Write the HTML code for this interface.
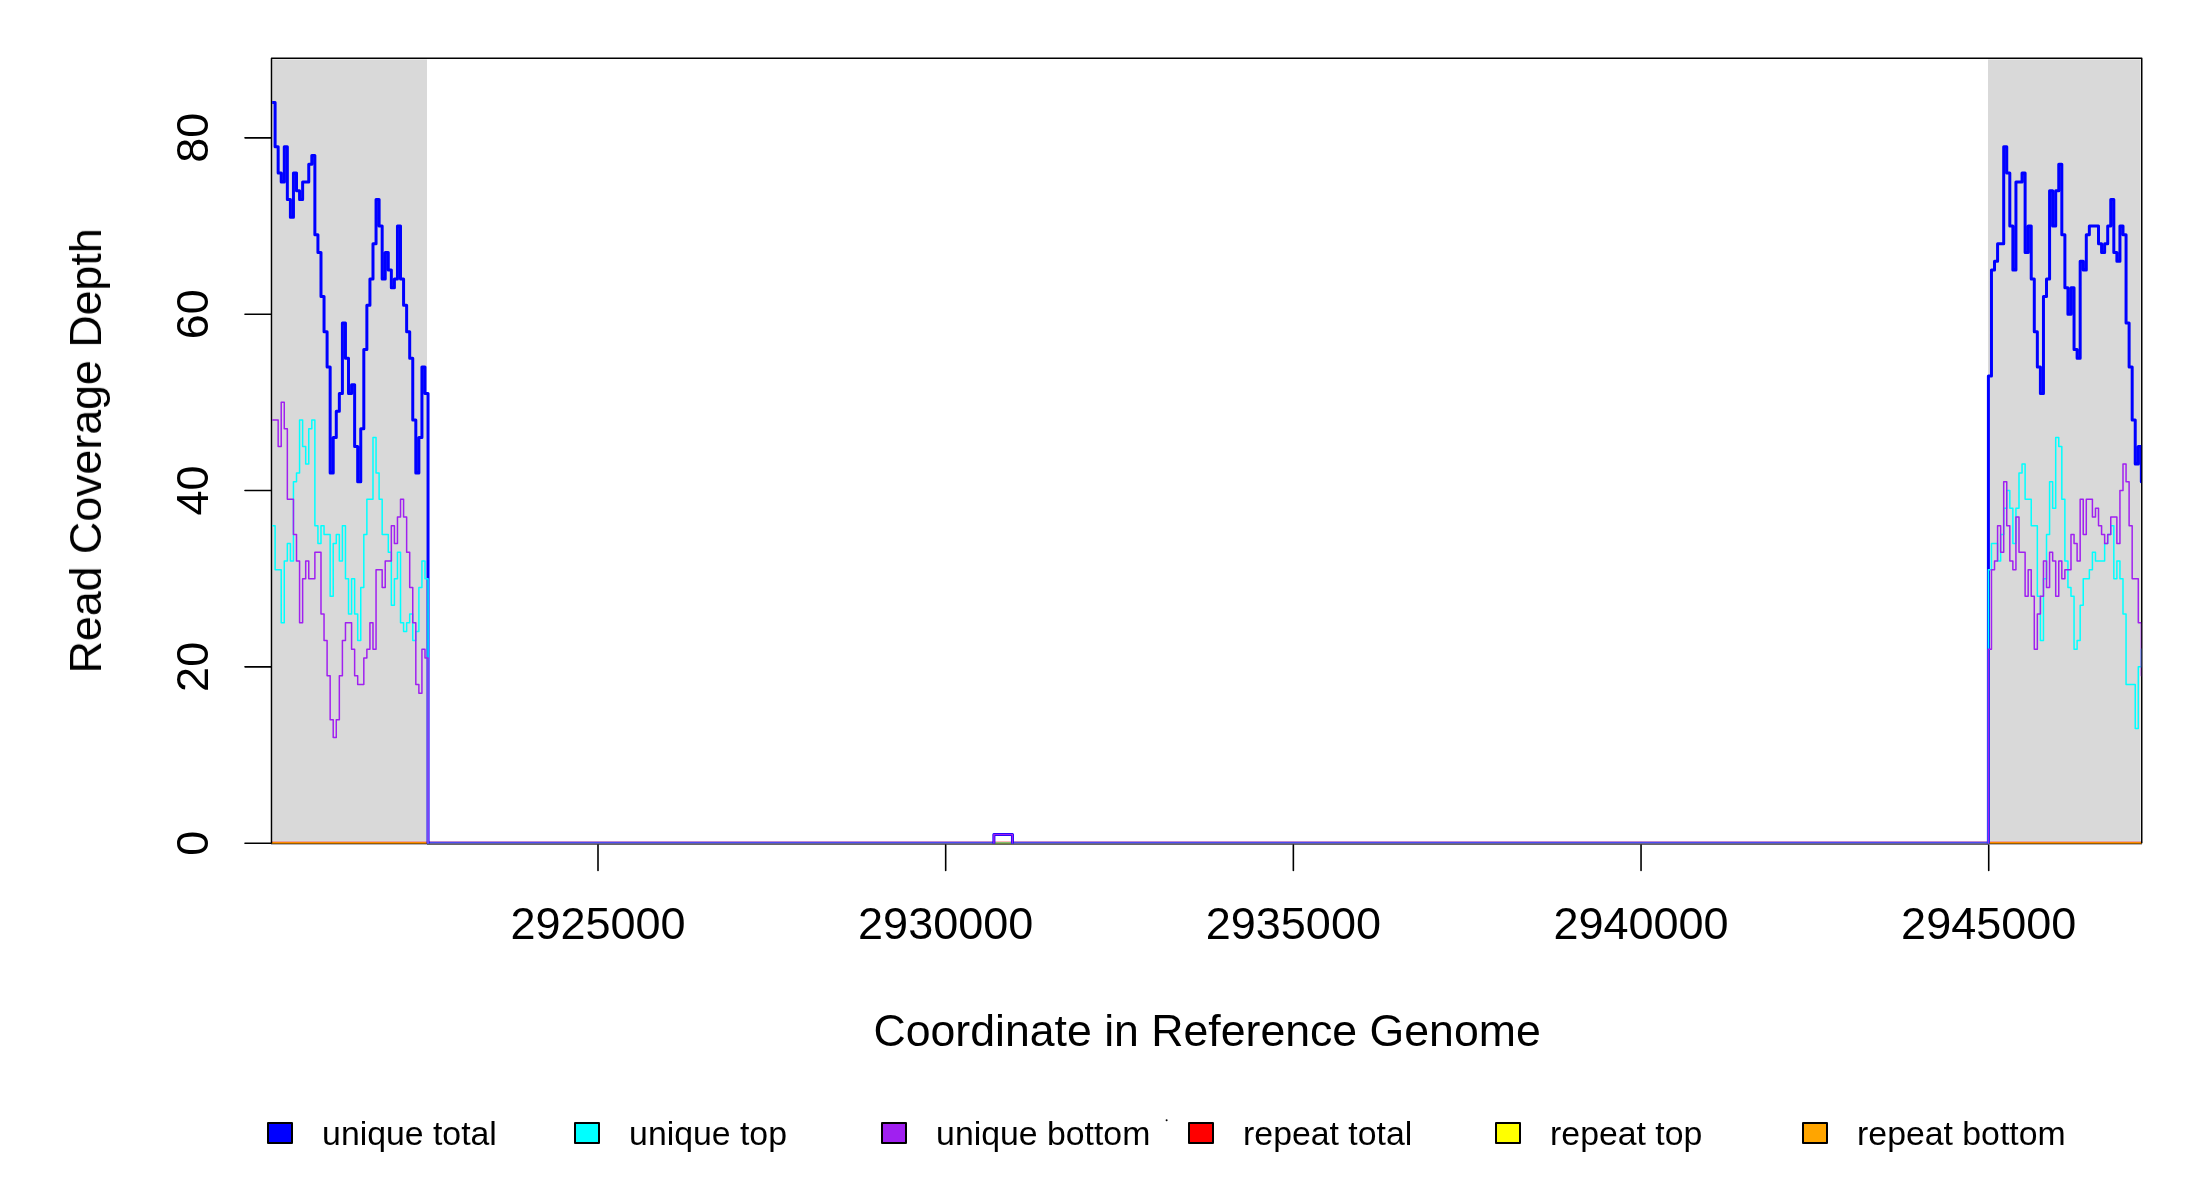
<!DOCTYPE html>
<html><head><meta charset="utf-8">
<style>
html,body{margin:0;padding:0;background:#fff;width:2200px;height:1200px;overflow:hidden}
svg{display:block}
.gs{filter:grayscale(1)}
text{font-family:"Liberation Sans",sans-serif;fill:#000}
</style></head>
<body>
<svg width="2200" height="1200" viewBox="0 0 2200 1200">
<defs><clipPath id="pc"><rect x="272.2" y="59" width="1869" height="784.6"/></clipPath></defs>
<rect x="0" y="0" width="2200" height="1200" fill="#fff"/>
<rect x="272.4" y="59.4" width="154.6" height="781.6" fill="#d9d9d9"/>
<rect x="1988" y="59.4" width="152.6" height="781.6" fill="#d9d9d9"/>
<rect x="273" y="840" width="154" height="1" fill="#d8dcdc"/>
<rect x="1988" y="840" width="152" height="1" fill="#d8dcdc"/>
<!-- bottom strips: gray regions -->
<g shape-rendering="crispEdges">
<rect x="271" y="841" width="156" height="1" fill="#e4a4a8"/>
<rect x="271" y="842" width="156" height="1" fill="#ff8c00"/>
<rect x="271" y="843" width="156" height="1" fill="#9c5c00"/>
<rect x="271" y="844" width="156" height="1" fill="#b4b4bc"/>
<rect x="1988" y="841" width="154" height="1" fill="#e4a4a8"/>
<rect x="1988" y="842" width="154" height="1" fill="#ff8c00"/>
<rect x="1988" y="843" width="154" height="1" fill="#9c5c00"/>
<rect x="1988" y="844" width="154" height="1" fill="#b4b4bc"/>
<!-- middle -->
<rect x="427" y="841" width="1561" height="1" fill="#c08ad0"/>
<rect x="427" y="842" width="1561" height="1" fill="#4a4cf4"/>
<rect x="427" y="843" width="1561" height="1" fill="#6a6098"/>
<rect x="427" y="844" width="1561" height="1" fill="#686868"/>
<!-- bump -->
<rect x="995" y="841" width="16" height="1" fill="#ffb8b8"/>
<rect x="995" y="842" width="16" height="1" fill="#80c070"/>
<rect x="995" y="843" width="16" height="1" fill="#748840"/>
<rect x="995" y="844" width="16" height="1" fill="#686860"/>
</g>
<!-- box -->
<path d="M271.5,843.2 V58.25 H2141.75 V843.2" fill="none" stroke="#000" stroke-width="1.5" stroke-linejoin="round"/>
<!-- DATA -->
<g clip-path="url(#pc)" fill="none" stroke-linejoin="round" stroke-linecap="round">
<path d="M265,102.57H275.1V146.66H278.16V173.11H281.22V181.93H284.28V146.66H287.34V199.56H290.4V217.19H293.45V173.11H296.51V190.74H299.57V199.56H302.63V181.93H305.69V181.93H308.75V164.29H311.81V155.47H314.87V234.83H317.93V252.46H320.99V296.55H324.04V331.81H327.1V367.08H330.16V472.89H333.22V437.62H336.28V411.17H339.34V393.53H342.4V323H345.46V358.27H348.52V393.53H351.58V384.72H354.63V446.44H357.69V481.7H360.75V428.8H363.81V349.45H366.87V305.36H369.93V278.91H372.99V243.64H376.05V199.56H379.11V226.01H382.17V278.91H385.22V252.46H388.28V270.1H391.34V287.73H394.4V278.91H397.46V226.01H400.52V278.91H403.58V305.36H406.64V331.81H409.7V358.27H412.75V419.98H415.81V472.89H418.87V437.62H421.93V367.08H424.99V393.53H428.05V843.2M993.9,843.2V834.38H1012.45V843.2M1988.4,843.2H1988.4V375.9H1991.46V270.1H1994.52V261.28H1997.58V243.64H2000.64V243.64H2003.7V146.66H2006.75V173.11H2009.81V226.01H2012.87V270.1H2015.93V181.93H2018.99V181.93H2022.05V173.11H2025.11V252.46H2028.17V226.01H2031.23V278.91H2034.29V331.81H2037.34V367.08H2040.4V393.53H2043.46V296.55H2046.52V278.91H2049.58V190.74H2052.64V226.01H2055.7V190.74H2058.76V164.29H2061.82V234.83H2064.88V287.73H2067.93V314.18H2070.99V287.73H2074.05V349.45H2077.11V358.27H2080.17V261.28H2083.23V270.1H2086.29V234.83H2089.35V226.01H2092.41V226.01H2095.47V226.01H2098.52V243.64H2101.58V252.46H2104.64V243.64H2107.7V226.01H2110.76V199.56H2113.82V252.46H2116.88V261.28H2119.94V226.01H2123V234.83H2126.06V323H2129.11V367.08H2132.17V419.98H2135.23V464.07H2138.29V446.44H2141.35V481.7H2150" stroke="#0000ff" stroke-width="3"/>
<path d="M265,525.79H275.1V569.87H278.16V569.87H281.22V622.78H284.28V561.06H287.34V543.42H290.4V561.06H293.45V481.7H296.51V472.89H299.57V419.98H302.63V446.44H305.69V464.07H308.75V428.8H311.81V419.98H314.87V525.79H317.93V543.42H320.99V525.79H324.04V534.61H327.1V534.61H330.16V596.32H333.22V543.42H336.28V534.61H339.34V561.06H342.4V525.79H345.46V578.69H348.52V613.96H351.58V578.69H354.63V613.96H357.69V640.41H360.75V587.51H363.81V534.61H366.87V499.34H369.93V499.34H372.99V437.62H376.05V472.89H379.11V499.34H382.17V534.61H385.22V534.61H388.28V552.24H391.34V605.14H394.4V578.69H397.46V552.24H400.52V622.78H403.58V631.59H406.64V622.78H409.7V613.96H412.75V640.41H415.81V631.59H418.87V587.51H421.93V561.06H424.99V578.69H428.05V843.2M1988.4,843.2H1988.4V569.87H1991.46V543.42H1994.52V543.42H1997.58V561.06H2000.64V534.61H2003.7V508.15H2006.75V490.52H2009.81V508.15H2012.87V543.42H2015.93V508.15H2018.99V472.89H2022.05V464.07H2025.11V499.34H2028.17V499.34H2031.23V525.79H2034.29V525.79H2037.34V596.32H2040.4V640.41H2043.46V578.69H2046.52V534.61H2049.58V481.7H2052.64V508.15H2055.7V437.62H2058.76V446.44H2061.82V499.34H2064.88V561.06H2067.93V587.51H2070.99V596.32H2074.05V649.23H2077.11V640.41H2080.17V605.14H2083.23V578.69H2086.29V578.69H2089.35V569.87H2092.41V552.24H2095.47V561.06H2098.52V561.06H2101.58V561.06H2104.64V543.42H2107.7V534.61H2110.76V525.79H2113.82V578.69H2116.88V561.06H2119.94V578.69H2123V613.96H2126.06V684.49H2129.11V684.49H2132.17V684.49H2135.23V728.58H2138.29V666.86H2141.35V649.23H2150" stroke="#00ffff" stroke-width="1.5"/>
<path d="M265,419.98H275.1V419.98H278.16V446.44H281.22V402.35H284.28V428.8H287.34V499.34H290.4V499.34H293.45V534.61H296.51V561.06H299.57V622.78H302.63V578.69H305.69V561.06H308.75V578.69H311.81V578.69H314.87V552.24H317.93V552.24H320.99V613.96H324.04V640.41H327.1V675.68H330.16V719.76H333.22V737.4H336.28V719.76H339.34V675.68H342.4V640.41H345.46V622.78H348.52V622.78H351.58V649.23H354.63V675.68H357.69V684.49H360.75V684.49H363.81V658.04H366.87V649.23H369.93V622.78H372.99V649.23H376.05V569.87H379.11V569.87H382.17V587.51H385.22V561.06H388.28V561.06H391.34V525.79H394.4V543.42H397.46V516.97H400.52V499.34H403.58V516.97H406.64V552.24H409.7V587.51H412.75V622.78H415.81V684.49H418.87V693.31H421.93V649.23H424.99V658.04H428.05V843.2M993.9,843.2V834.38H1012.45V843.2M1988.4,843.2H1988.4V649.23H1991.46V569.87H1994.52V561.06H1997.58V525.79H2000.64V552.24H2003.7V481.7H2006.75V525.79H2009.81V561.06H2012.87V569.87H2015.93V516.97H2018.99V552.24H2022.05V552.24H2025.11V596.32H2028.17V569.87H2031.23V596.32H2034.29V649.23H2037.34V613.96H2040.4V596.32H2043.46V561.06H2046.52V587.51H2049.58V552.24H2052.64V561.06H2055.7V596.32H2058.76V561.06H2061.82V578.69H2064.88V569.87H2067.93V569.87H2070.99V534.61H2074.05V543.42H2077.11V561.06H2080.17V499.34H2083.23V534.61H2086.29V499.34H2089.35V499.34H2092.41V516.97H2095.47V508.15H2098.52V525.79H2101.58V534.61H2104.64V543.42H2107.7V534.61H2110.76V516.97H2113.82V516.97H2116.88V543.42H2119.94V490.52H2123V464.07H2126.06V481.7H2129.11V525.79H2132.17V578.69H2135.23V578.69H2138.29V622.78H2141.35V675.68H2150" stroke="#a020f0" stroke-width="1.5"/>
</g>
<!-- ticks -->
<g stroke="#000" stroke-width="1.6" stroke-linecap="round">
<line x1="245" y1="843.20" x2="271" y2="843.20"/>
<line x1="245" y1="666.86" x2="271" y2="666.86"/>
<line x1="245" y1="490.52" x2="271" y2="490.52"/>
<line x1="245" y1="314.18" x2="271" y2="314.18"/>
<line x1="245" y1="137.84" x2="271" y2="137.84"/>
<line x1="598.00" y1="845" x2="598.00" y2="870.5"/>
<line x1="945.68" y1="845" x2="945.68" y2="870.5"/>
<line x1="1293.36" y1="845" x2="1293.36" y2="870.5"/>
<line x1="1641.04" y1="845" x2="1641.04" y2="870.5"/>
<line x1="1988.72" y1="845" x2="1988.72" y2="870.5"/>
</g>
<g class="gs" font-size="45" text-anchor="middle">
<text transform="translate(208.4,843.20) rotate(-90)">0</text>
<text transform="translate(208.4,666.86) rotate(-90)">20</text>
<text transform="translate(208.4,490.52) rotate(-90)">40</text>
<text transform="translate(208.4,314.18) rotate(-90)">60</text>
<text transform="translate(208.4,137.84) rotate(-90)">80</text>
<text x="598.00" y="939">2925000</text>
<text x="945.68" y="939">2930000</text>
<text x="1293.36" y="939">2935000</text>
<text x="1641.04" y="939">2940000</text>
<text x="1988.72" y="939">2945000</text>
<text x="1207.1" y="1046" font-size="44.64">Coordinate in Reference Genome</text>
<text transform="translate(101,450.85) rotate(-90)" font-size="44.73">Read Coverage Depth</text>
</g>
<!-- legend -->
<g stroke="#000" stroke-width="2" stroke-linejoin="round">
<rect x="268" y="1123" width="24" height="20" fill="#0000ff"/>
<rect x="575" y="1123" width="24" height="20" fill="#00ffff"/>
<rect x="882" y="1123" width="24" height="20" fill="#a020f0"/>
<rect x="1189" y="1123" width="24" height="20" fill="#ff0000"/>
<rect x="1496" y="1123" width="24" height="20" fill="#ffff00"/>
<rect x="1803" y="1123" width="24" height="20" fill="#ffa500"/>
</g>
<circle cx="1166.6" cy="1120.3" r="1" fill="#000"/>
<g class="gs" font-size="33.8">
<text x="322.1" y="1145">unique total</text>
<text x="629.1" y="1145">unique top</text>
<text x="936.1" y="1145">unique bottom</text>
<text x="1243.1" y="1145">repeat total</text>
<text x="1550.1" y="1145">repeat top</text>
<text x="1857.1" y="1145">repeat bottom</text>
</g>
</svg>
</body></html>
